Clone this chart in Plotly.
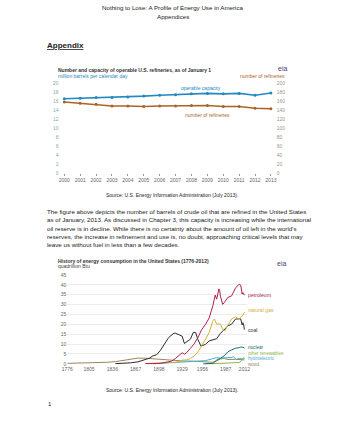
import plotly.graph_objects as go

W, H = 340, 440
FONT = "Liberation Sans"

# ---------- Chart 1 data: refineries ----------
ref_years = list(range(2000, 2014))
capacity = [16.5, 16.6, 16.8, 16.8, 16.9, 17.1, 17.3, 17.4, 17.6, 17.7, 17.6, 17.7, 17.3, 17.8]
refineries = [158, 155, 153, 149, 149, 148, 149, 149, 150, 150, 148, 148, 144, 143]
left_ticks = list(range(0, 21, 2))
right_ticks = list(range(0, 201, 20))

# ---------- Chart 2 data: energy history (quadrillion Btu) ----------
wood_years = [1776, 1790, 1800, 1810, 1820, 1830, 1840, 1850, 1860, 1870, 1880, 1885, 1890, 1900,
              1910, 1920, 1930, 1940, 1950, 1960, 1970, 1975, 1980, 1985, 1990, 2000, 2005, 2010, 2012]
wood = [0.25, 0.3, 0.4, 0.5, 0.6, 0.8, 1.1, 1.6, 2.1, 2.9, 2.85, 2.7, 2.5, 2.0,
        1.9, 1.6, 1.45, 1.4, 1.2, 0.8, 0.8, 1.5, 2.5, 2.7, 2.2, 2.3, 2.1, 2.0, 2.0]

coal_years = [1840, 1850, 1860, 1870, 1880, 1885, 1890, 1895, 1900, 1905, 1910, 1913, 1918, 1920,
              1925, 1929, 1932, 1935, 1940, 1944, 1947, 1950, 1954, 1958, 1960, 1965, 1970, 1975,
              1980, 1985, 1990, 1995, 2000, 2005, 2007, 2009, 2010, 2011, 2012]
coal = [0.1, 0.2, 0.5, 1.0, 2.0, 2.8, 4.0, 4.6, 6.8, 10.0, 12.7, 14.0, 15.5, 15.5,
        14.7, 14.0, 10.3, 11.0, 12.5, 16.0, 15.8, 12.3, 9.0, 9.5, 9.8, 11.6, 12.3, 12.7,
        15.4, 17.5, 19.2, 20.1, 22.6, 22.8, 22.7, 19.7, 20.8, 19.7, 17.3]

pet_years = [1880, 1890, 1900, 1910, 1915, 1920, 1925, 1929, 1932, 1935, 1940, 1945, 1950, 1955,
             1960, 1965, 1970, 1973, 1975, 1977, 1978, 1979, 1980, 1983, 1985, 1990, 1995, 2000,
             2004, 2005, 2007, 2008, 2009, 2010, 2012]
petroleum = [0.1, 0.15, 0.23, 1.0, 1.4, 2.7, 4.3, 5.6, 4.9, 5.7, 7.8, 10.1, 13.3, 17.3,
             19.9, 23.2, 29.5, 34.8, 32.7, 37.1, 37.9, 37.1, 34.2, 30.1, 30.9, 33.6, 34.4, 38.3,
             40.2, 40.3, 39.8, 37.3, 35.3, 36.0, 34.7]

gas_years = [1880, 1890, 1900, 1910, 1920, 1925, 1930, 1935, 1940, 1945, 1950, 1955, 1960, 1965,
             1970, 1972, 1975, 1980, 1983, 1986, 1990, 1995, 2000, 2005, 2010, 2012]
natural_gas = [0.15, 0.3, 0.25, 0.54, 0.8, 1.2, 1.9, 2.0, 2.7, 3.9, 6.0, 9.0, 12.4, 15.8,
               21.8, 22.7, 20.0, 20.2, 17.4, 16.7, 19.6, 22.7, 23.8, 22.6, 24.6, 26.0]

nuc_years = [1957, 1960, 1965, 1970, 1975, 1980, 1985, 1990, 1995, 2000, 2005, 2007, 2010, 2012]
nuclear = [0.0, 0.01, 0.04, 0.24, 1.9, 2.74, 4.08, 6.1, 7.08, 7.86, 8.16, 8.46, 8.43, 8.06]

hydro_years = [1890, 1900, 1910, 1920, 1930, 1940, 1950, 1960, 1970, 1975, 1980, 1985, 1990, 1995,
               1997, 2000, 2001, 2005, 2010, 2011, 2012]
hydro = [0.02, 0.25, 0.54, 0.74, 0.75, 0.88, 1.42, 1.61, 2.63, 3.15, 2.9, 2.97, 3.05, 3.2,
         3.64, 2.81, 2.24, 2.7, 2.54, 3.17, 2.63]

other_years = [1960, 1970, 1980, 1985, 1990, 1995, 2000, 2005, 2008, 2010, 2011, 2012]
other_ren = [0.0, 0.01, 0.06, 0.2, 0.4, 0.5, 0.6, 0.7, 1.6, 2.3, 2.6, 2.7]

hist_ticks = [1776, 1805, 1836, 1867, 1898, 1929, 1956, 1987, 2012]
hist_yticks = list(range(0, 46, 5))

paragraph = [
    "The figure above depicts the number of barrels of crude oil that are refined in the United States",
    "as of January, 2013. As discussed in Chapter 3, this capacity is increasing while the international",
    "oil reserve is in decline. While there is no certainty about the amount of oil left in the world's",
    "reserves, the increase in refinement and use is, no doubt, approaching critical levels that may",
    "leave us without fuel in less than a few decades.",
]

BLUE = "#2389c0"
BROWN = "#a8652a"


def px(x):
    return x / W


def py(y):
    return 1 - y / H


fig = go.Figure()

# chart 1
fig.add_trace(go.Scatter(x=ref_years, y=capacity, mode="lines+markers", xaxis="x", yaxis="y",
                         line=dict(color=BLUE, width=1.6), marker=dict(size=3, color=BLUE),
                         showlegend=False))
fig.add_trace(go.Scatter(x=ref_years, y=refineries, mode="lines+markers", xaxis="x", yaxis="y2",
                         line=dict(color=BROWN, width=1.6), marker=dict(size=3, color=BROWN),
                         showlegend=False))

# chart 2
series = [
    (wood_years, wood, "#9a8560", "wood"),
    (hydro_years, hydro, "#3fb0d8", "hydroelectric"),
    (other_years, other_ren, "#8db53c", "other renewables"),
    (nuc_years, nuclear, "#116c70", "nuclear"),
    (coal_years, coal, "#2b2b2b", "coal"),
    (gas_years, natural_gas, "#d3b13a", "natural gas"),
    (pet_years, petroleum, "#b01e4e", "petroleum"),
]
for xs, ys, col, name in series:
    fig.add_trace(go.Scatter(x=xs, y=ys, mode="lines", xaxis="x2", yaxis="y4",
                             line=dict(color=col, width=1), showlegend=False))

tickfont = dict(family=FONT, size=5, color="#666")
fig.update_layout(
    width=W, height=H, margin=dict(l=0, r=0, t=0, b=0),
    paper_bgcolor="white", plot_bgcolor="white",
    font=dict(family=FONT, color="#222"),
    xaxis=dict(domain=[px(55), px(277)], range=[1999.7, 2013.3], tickvals=ref_years,
               ticks="outside", ticklen=2, tickcolor="#999", tickfont=tickfont,
               showgrid=False, zeroline=False, showline=False, anchor="y"),
    yaxis=dict(domain=[py(173), py(79.7)], range=[0, 20.5], tickvals=left_ticks,
               tickfont=dict(family=FONT, size=5, color="#8aa"), showgrid=False,
               zeroline=False, anchor="x"),
    yaxis2=dict(overlaying="y", side="right", range=[0, 205], tickvals=right_ticks,
                tickfont=dict(family=FONT, size=5, color="#998"), showgrid=False,
                zeroline=False, anchor="x"),
    yaxis3=dict(overlaying="y", range=[0, 20.5], tickvals=[2, 6, 10, 14, 18],
                showticklabels=False, showgrid=True, gridcolor="#e4e4e4", gridwidth=0.8,
                zeroline=False, anchor="x"),
    xaxis2=dict(domain=[px(63), px(248)], range=[1776, 2016], tickvals=hist_ticks,
                tickfont=tickfont, showgrid=False, zeroline=False, anchor="y4"),
    yaxis4=dict(domain=[py(367), py(275)], range=[-0.5, 45.5], tickvals=hist_yticks,
                tickfont=tickfont, showgrid=True, gridcolor="#ececec", gridwidth=0.8,
                zeroline=False, anchor="x2"),
)

ann = []


def text(x, y, s, size=6.3, color="#222", xanchor="left", **kw):
    ann.append(dict(x=px(x), y=py(y), xref="paper", yref="paper", text=s, showarrow=False,
                    xanchor=xanchor, yanchor="middle",
                    font=dict(family=FONT, size=size, color=color), **kw))


text(172, 6, "Nothing to Lose: A Profile of Energy Use in America", size=6.2, xanchor="center")
text(172, 15, "Appendices", size=6.2, xanchor="center")
text(40, 44, "<b><u>Appendix</u></b>", size=8)

text(51, 69, "<b>Number and capacity of operable U.S. refineries, as of January 1</b>", size=5, color="#333")
text(51, 75, "million barrels per calendar day", size=5, color=BLUE)
text(289, 75, "number of refineries", size=5, color=BROWN, xanchor="right")
text(284, 67, "eia", size=7, color="#446", xanchor="center")
ann.append(dict(x=ref_years[8] + 0.6, y=capacity[8] + 1.4, xref="x", yref="y", text="operable capacity",
                showarrow=False, font=dict(family=FONT, size=5, color=BLUE)))
ann.append(dict(x=ref_years[9], y=refineries[9] / 10 - 2.0, xref="x", yref="y", text="number of refineries",
                showarrow=False, font=dict(family=FONT, size=5, color=BROWN)))
text(170, 195, "Source: U.S. Energy Information Administration (July 2013).", size=5, xanchor="center")

for i, line in enumerate(paragraph):
    text(40, 212 + i * 8.4, line, size=6.2)

text(51, 262, "<b>History of energy consumption in the United States (1776-2012)</b>", size=5, color="#333")
text(51, 267.5, "quadrillion Btu", size=5, color="#444")
text(283, 265, "eia", size=7, color="#446", xanchor="center")

label_offsets = {"petroleum": 0, "natural gas": 1, "coal": 0, "nuclear": 0.3,
                 "other renewables": 2.6, "hydroelectric": -0.1, "wood": -2.2}
label_sizes = {"petroleum": 5.2, "natural gas": 5.2, "coal": 5.2, "nuclear": 4.6,
               "other renewables": 4.6, "hydroelectric": 4.6, "wood": 4.6}
for xs, ys, col, name in series:
    ann.append(dict(x=2014, y=ys[-1] + label_offsets[name], xref="x2", yref="y4", text=name,
                    showarrow=False, xanchor="left",
                    font=dict(family=FONT, size=label_sizes[name], color=col if name != "coal" else "#333")))

text(170, 392, "Source: U.S. Energy Information Administration (July 2013).", size=5, xanchor="center")
text(41, 407, "1", size=6)

fig.update_layout(annotations=ann)
fig.write_html("out.html")
